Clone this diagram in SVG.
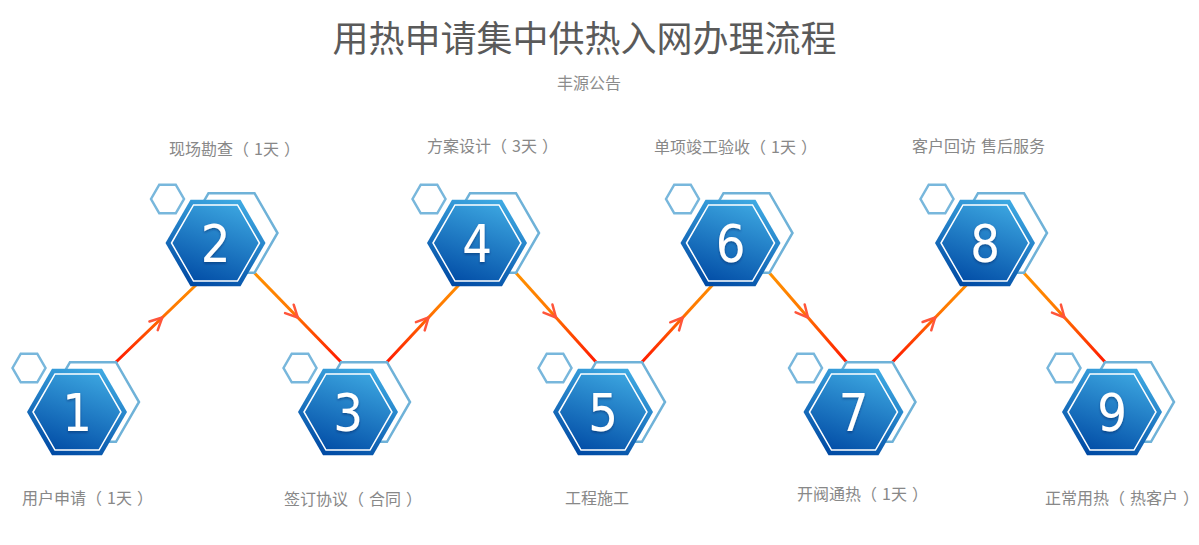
<svg xmlns="http://www.w3.org/2000/svg" xmlns:xlink="http://www.w3.org/1999/xlink" width="1199" height="545" viewBox="0 0 1199 545">
<defs>
<style>
.title{font-family:"Noto Sans CJK SC","Noto Sans",sans-serif;font-size:36px;fill:#5a5a5a}
.sub{font-family:"Noto Sans CJK SC","Noto Sans",sans-serif;font-size:16px;fill:#8c8c8c}
.lbl{font-family:"Noto Sans CJK SC","Noto Sans",sans-serif;font-size:16px;fill:#888888}
.num{font-family:"DejaVu Sans Condensed","DejaVu Sans",sans-serif;font-stretch:condensed;font-size:52px;fill:#ffffff;text-anchor:middle;filter:url(#sh)}
.back{fill:none;stroke:#6fb2d8;stroke-width:2.5}
.small{fill:none;stroke:#78b7dc;stroke-width:2.5}
.main{fill:url(#hg)}
.inner{fill:none;stroke:#ffffff;stroke-width:1.5}
.conn{fill:none;stroke:url(#lg);stroke-width:3;marker-mid:url(#chev)}
</style>
<linearGradient id="hg" x1="0.7" y1="0" x2="0.3" y2="1">
<stop offset="0" stop-color="#3ea9e2"/>
<stop offset="1" stop-color="#004aa4"/>
</linearGradient>
<linearGradient id="lg" gradientUnits="userSpaceOnUse" x1="0" y1="273" x2="0" y2="362">
<stop offset="0" stop-color="#ff9000"/>
<stop offset="0.4" stop-color="#ff7a00"/>
<stop offset="1" stop-color="#ff1a00"/>
</linearGradient>
<marker id="chev" markerUnits="userSpaceOnUse" viewBox="-16 -10 20 20" refX="0" refY="0" markerWidth="20" markerHeight="20" orient="auto" overflow="visible">
<path d="M-12,-6 L0,0 L-12,6" fill="none" stroke="#ff553a" stroke-width="2.5" stroke-linecap="round" stroke-linejoin="round"/>
</marker>
<filter id="sh" x="-30%" y="-30%" width="160%" height="160%">
<feDropShadow dx="0" dy="1.5" stdDeviation="1" flood-color="#00205a" flood-opacity="0.5"/>
</filter>
<polygon id="hSmall" class="small" points="-64.5,-44 -56.25,-58.3 -39.75,-58.3 -31.5,-44 -39.75,-29.7 -56.25,-29.7"/>
<polygon id="hBack" class="back" points="-30,-10 -7,-49.8 39,-49.8 62,-10 39,29.8 -7,29.8"/>
<polygon id="hMain" class="main" points="-50,0 -25,-43.3 25,-43.3 50,0 25,43.3 -25,43.3"/>
<polygon id="hInner" class="inner" points="-44,0 -22,-38.1 22,-38.1 44,0 22,38.1 -22,38.1"/>
</defs>
<rect x="0" y="0" width="1199" height="545" fill="#ffffff"/>
<text class="title" x="584.5" y="52" text-anchor="middle">用热申请集中供热入网办理流程</text>
<text class="sub" x="589" y="89" text-anchor="middle">丰源公告</text>

<g id="connectors">
<polyline class="conn" points="116,362 162.25,317.5 208.5,273"/>
<polyline class="conn" points="254.5,273 297.75,317.5 341,362"/>
<polyline class="conn" points="387,362 428.5,317.5 470,273"/>
<polyline class="conn" points="516,273 556,317.5 596,362"/>
<polyline class="conn" points="642,362 682.75,317.5 723.5,273"/>
<polyline class="conn" points="769.5,273 808,317.5 846.5,362"/>
<polyline class="conn" points="892.5,362 935.25,317.5 978,273"/>
<polyline class="conn" points="1024,273 1064.5,317.5 1105,362"/>
</g>

<g id="node1">
<g transform="translate(77,412)"><use xlink:href="#hSmall"/><use xlink:href="#hBack"/><use xlink:href="#hMain"/><use xlink:href="#hInner"/><text class="num" x="0" y="19">1</text></g>
<text class="lbl" x="22" y="504">用户申请<tspan>（</tspan><tspan dx="5">1天</tspan><tspan dx="5">）</tspan></text>
</g>
<g id="node2">
<g transform="translate(215.5,243)"><use xlink:href="#hSmall"/><use xlink:href="#hBack"/><use xlink:href="#hMain"/><use xlink:href="#hInner"/><text class="num" x="0" y="19">2</text></g>
<text class="lbl" x="169" y="155">现场勘查<tspan>（</tspan><tspan dx="5">1天</tspan><tspan dx="5">）</tspan></text>
</g>
<g id="node3">
<g transform="translate(348,412)"><use xlink:href="#hSmall"/><use xlink:href="#hBack"/><use xlink:href="#hMain"/><use xlink:href="#hInner"/><text class="num" x="0" y="19">3</text></g>
<text class="lbl" x="284" y="505">签订协议<tspan>（</tspan><tspan dx="5">合同</tspan><tspan dx="5">）</tspan></text>
</g>
<g id="node4">
<g transform="translate(477,243)"><use xlink:href="#hSmall"/><use xlink:href="#hBack"/><use xlink:href="#hMain"/><use xlink:href="#hInner"/><text class="num" x="0" y="19">4</text></g>
<text class="lbl" x="427" y="152">方案设计<tspan>（</tspan><tspan dx="5">3天</tspan><tspan dx="5">）</tspan></text>
</g>
<g id="node5">
<g transform="translate(603,412)"><use xlink:href="#hSmall"/><use xlink:href="#hBack"/><use xlink:href="#hMain"/><use xlink:href="#hInner"/><text class="num" x="0" y="19">5</text></g>
<text class="lbl" x="565" y="504">工程施工</text>
</g>
<g id="node6">
<g transform="translate(730.5,243)"><use xlink:href="#hSmall"/><use xlink:href="#hBack"/><use xlink:href="#hMain"/><use xlink:href="#hInner"/><text class="num" x="0" y="19">6</text></g>
<text class="lbl" x="654" y="153">单项竣工验收<tspan>（</tspan><tspan dx="5">1天</tspan><tspan dx="5">）</tspan></text>
</g>
<g id="node7">
<g transform="translate(853.5,412)"><use xlink:href="#hSmall"/><use xlink:href="#hBack"/><use xlink:href="#hMain"/><use xlink:href="#hInner"/><text class="num" x="0" y="19">7</text></g>
<text class="lbl" x="797" y="500">开阀通热<tspan>（</tspan><tspan dx="5">1天</tspan><tspan dx="5">）</tspan></text>
</g>
<g id="node8">
<g transform="translate(985,243)"><use xlink:href="#hSmall"/><use xlink:href="#hBack"/><use xlink:href="#hMain"/><use xlink:href="#hInner"/><text class="num" x="0" y="19">8</text></g>
<text class="lbl" x="912" y="152">客户回访<tspan dx="5">售后服务</tspan></text>
</g>
<g id="node9">
<g transform="translate(1112,412)"><use xlink:href="#hSmall"/><use xlink:href="#hBack"/><use xlink:href="#hMain"/><use xlink:href="#hInner"/><text class="num" x="0" y="19">9</text></g>
<text class="lbl" x="1045" y="504">正常用热<tspan>（</tspan><tspan dx="5">热客户</tspan><tspan dx="5">）</tspan></text>
</g>
</svg>
